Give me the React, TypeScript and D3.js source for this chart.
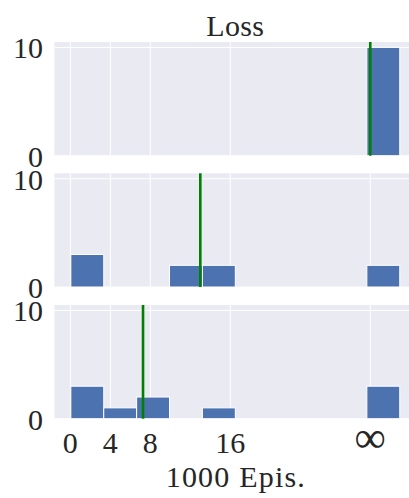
import React from 'react';
import * as d3 from 'd3';

const binStart = 0.05;
const binEnd = 32.95;
const binCount = 10;
const panelCounts: number[][] = [
  [0, 0, 0, 0, 0, 0, 0, 0, 0, 10],
  [3, 0, 0, 2, 2, 0, 0, 0, 0, 2],
  [3, 1, 2, 0, 1, 0, 0, 0, 0, 3],
];
const meanLines = [30, 13.0, 7.27];
const xTicks = [0, 4, 8, 16, 30];
const xTickLabels = ['0', '4', '8', '16', '∞'];
const yTicks = [0, 10];
const yTickLabels = ['0', '10'];
const title = 'Loss';
const xLabel = '1000 Epis.';

const W = 409;
const H = 498;
const left = 54.4;
const right = 416.2;
const panelTops = [42, 173.3, 305];
const panelH = 113.7;
const font = "'Liberation Serif', 'Times New Roman', Times, serif";
const textColor = '#262626';

export default function App() {
  const span = binEnd - binStart;
  const x = d3
    .scaleLinear()
    .domain([binStart - 0.05 * span, binEnd + 0.05 * span])
    .range([left, right]);
  const bw = span / binCount;
  const ts: React.CSSProperties = { fontFamily: font, fontSize: 30 };

  return (
    <svg
      width={W}
      height={H}
      style={{ position: 'absolute', left: 0, top: 0, background: '#fff' }}
    >
      {panelCounts.map((counts, p) => {
        const top = panelTops[p];
        const y = d3.scaleLinear().domain([0, 10.5]).range([top + panelH, top]);
        return (
          <g key={p}>
            <rect x={left} y={top} width={right - left} height={panelH} fill="#EAEAF2" />
            {xTicks.map((t) => (
              <line key={'gx' + t} x1={x(t)} x2={x(t)} y1={top} y2={top + panelH} stroke="#fff" strokeWidth={1} />
            ))}
            {yTicks.map((t) => (
              <line key={'gy' + t} x1={left} x2={right} y1={y(t)} y2={y(t)} stroke="#fff" strokeWidth={1} />
            ))}
            {counts.map((c, i) =>
              c > 0 ? (
                <rect
                  key={'b' + i}
                  x={x(binStart + i * bw)}
                  y={y(c)}
                  width={x(binStart + (i + 1) * bw) - x(binStart + i * bw)}
                  height={y(0) - y(c)}
                  fill="#4C72B0"
                  stroke="#fff"
                  strokeWidth={1}
                />
              ) : null
            )}
            <line
              x1={x(meanLines[p])}
              x2={x(meanLines[p])}
              y1={top}
              y2={top + panelH}
              stroke="#008000"
              strokeWidth={2.6}
            />
            {yTicks.map((t, i) => (
              <text
                key={'yl' + t}
                x={43}
                y={y(t) + 11}
                textAnchor="end"
                style={ts}
                fill={textColor}
              >
                {yTickLabels[i]}
              </text>
            ))}
          </g>
        );
      })}
      <text x={(left + right) / 2} y={36} textAnchor="middle" style={{ ...ts, letterSpacing: 0.4 }} fill={textColor}>
        {title}
      </text>
      {xTicks.map((t, i) => (
        <text
          key={'xl' + t}
          x={x(t)}
          y={i === xTicks.length - 1 ? 452 : 453}
          textAnchor="middle"
          style={i === xTicks.length - 1 ? { ...ts, fontSize: 44 } : ts}
          fill={textColor}
        >
          {xTickLabels[i]}
        </text>
      ))}
      <text x={(left + right) / 2 + 0.6} y={487} textAnchor="middle" style={{ ...ts, letterSpacing: 1.2 }} fill={textColor}>
        {xLabel}
      </text>
    </svg>
  );
}
